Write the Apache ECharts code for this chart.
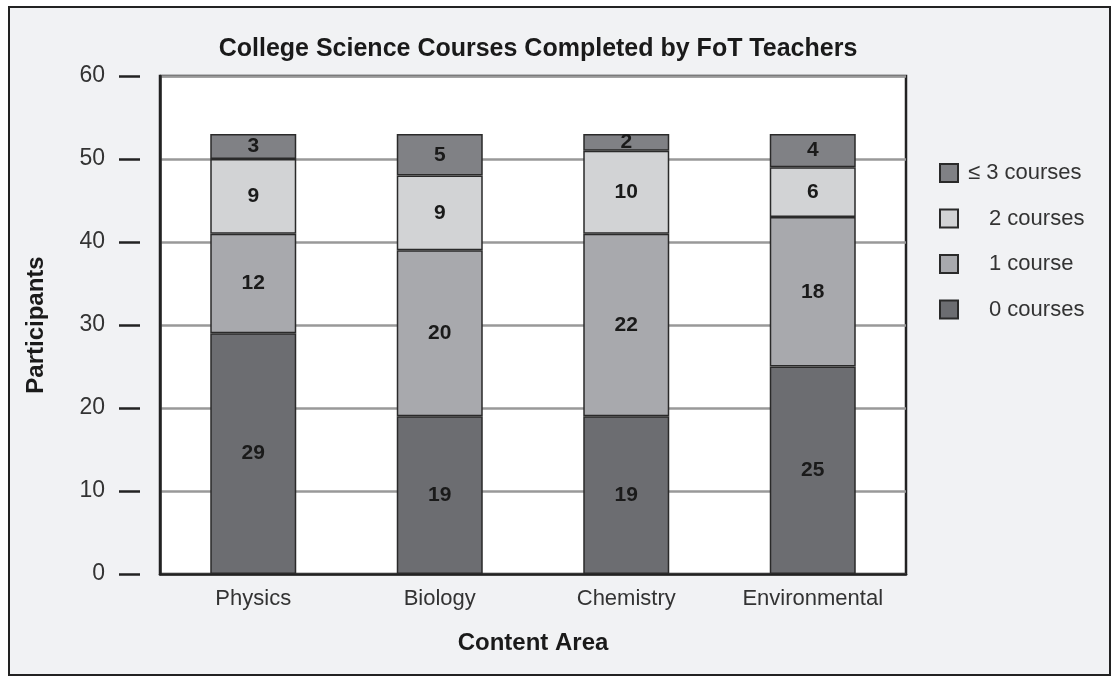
<!DOCTYPE html>
<html>
<head>
<meta charset="utf-8">
<script src="https://cdn.jsdelivr.net/npm/echarts@6/dist/echarts.min.js"></script>
<style>
  body { margin: 0; background: #fff; }
  #frame { position: absolute; left: 8px; top: 6px; width: 1099px; height: 666px; border: 2.5px solid #222; background: #f1f2f4; }
  #chart { position: absolute; left: 0; top: 0; width: 1113px; height: 677px; }
</style>
</head>
<body>
<div id="frame"></div>
<div id="chart"></div>
<script>
// 数据
const categories = ['Physics', 'Biology', 'Chemistry', 'Environmental']
const zeroCourses = [29, 19, 19, 25]
const oneCourse = [12, 20, 22, 18]
const twoCourses = [9, 9, 10, 6]
const threeCourses = [3, 5, 2, 4]
const yTicks = [0, 10, 20, 30, 40, 50, 60]

const font = '"Liberation Sans", Arial, Helvetica, sans-serif'

const chart = echarts.init(document.getElementById('chart'))

const makeSeries = (name, data, color) => ({
  name: name,
  type: 'bar',
  stack: 'total',
  barWidth: 86,
  data: data,
  itemStyle: { color: color, borderColor: '#2a2a2a', borderWidth: 1.5 },
  label: {
    show: true,
    position: 'inside',
    color: '#1a1a1a',
    fontFamily: font,
    fontWeight: 'bold',
    fontSize: 21
  }
})

const option = {
  animation: false,
  title: {
    text: 'College Science Courses Completed by FoT Teachers',
    left: 533,
    textAlign: 'center',
    top: 32,
    textStyle: { fontFamily: font, fontWeight: 'bold', fontSize: 25, color: '#1a1a1a' }
  },
  legend: {
    orient: 'vertical',
    left: 934,
    top: 157,
    icon: 'rect',
    itemWidth: 18,
    itemHeight: 18,
    itemGap: 23.5,
    data: ['≤ 3 courses', '2 courses', '1 course', '0 courses'],
    formatter: (name) => (name.startsWith('≤') ? '{a|' + name + '}' : '{b|' + name + '}'),
    textStyle: {
      fontFamily: font,
      fontSize: 22,
      color: '#333',
      rich: {
        a: { fontFamily: font, fontSize: 22, color: '#333', padding: [0, 0, 0, 5] },
        b: { fontFamily: font, fontSize: 22, color: '#333', padding: [0, 0, 0, 26] }
      }
    }
  },
  grid: {
    left: 160,
    right: 207,
    top: 76,
    bottom: 103,
    show: true,
    backgroundColor: '#fff',
    borderColor: '#222',
    borderWidth: 2.5
  },
  xAxis: {
    type: 'category',
    data: categories,
    name: 'Content Area',
    nameLocation: 'middle',
    nameGap: 57,
    nameTextStyle: { fontFamily: font, fontWeight: 'bold', fontSize: 24, color: '#1a1a1a' },
    axisLine: { lineStyle: { color: '#222', width: 2.5 } },
    axisTick: { show: false },
    axisLabel: { fontFamily: font, fontSize: 22, color: '#333', margin: 14 }
  },
  yAxis: [
    {
      type: 'value',
      min: 0,
      max: 60,
      interval: 10,
      name: 'Participants',
      nameLocation: 'middle',
      nameGap: 112,
      nameTextStyle: { fontFamily: font, fontWeight: 'bold', fontSize: 24, color: '#1a1a1a' },
      axisLine: { show: true, lineStyle: { color: '#222', width: 2.5 } },
      axisTick: { show: false },
      axisLabel: { show: false },
      splitLine: { lineStyle: { color: '#999', width: 2.5 } }
    },
    {
      type: 'value',
      position: 'left',
      offset: 20,
      min: yTicks[0],
      max: yTicks[yTicks.length - 1],
      interval: 10,
      axisLine: { show: false },
      axisTick: { show: true, length: 21, lineStyle: { color: '#222', width: 2.5 } },
      axisLabel: { fontFamily: font, fontSize: 23, color: '#333', margin: 35 },
      splitLine: { show: false }
    }
  ],
  series: [
    makeSeries('0 courses', zeroCourses, '#6c6d71'),
    makeSeries('1 course', oneCourse, '#a8a9ad'),
    makeSeries('2 courses', twoCourses, '#d2d3d5'),
    makeSeries('≤ 3 courses', threeCourses, '#808185')
  ]
}

chart.setOption(option)
</script>
</body>
</html>
